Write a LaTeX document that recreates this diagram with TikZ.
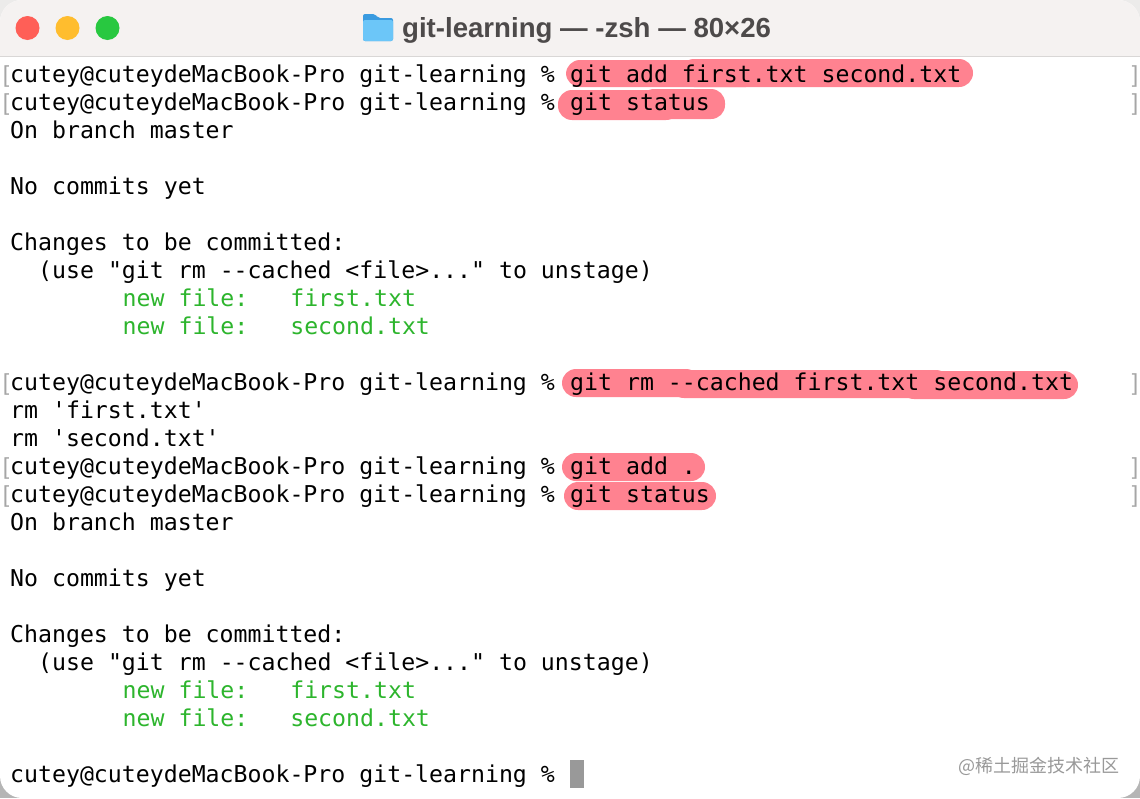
\documentclass[tikz,border=0pt]{standalone}
\usepackage{fontspec}
\setmainfont{Liberation Sans}
\setmonofont{DejaVu Sans Mono}
\newfontfamily\cjkfont{Noto Sans CJK SC}
\definecolor{barbg}{HTML}{F5F2F1}
\definecolor{barline}{HTML}{D9D7D6}
\definecolor{cornertop}{HTML}{ECEBEA}
\definecolor{cornerbot}{HTML}{B5B5B5}
\definecolor{marker}{HTML}{FF8290}
\definecolor{addgreen}{HTML}{2DB52D}
\definecolor{titletext}{HTML}{4D4A4A}
\definecolor{btnred}{HTML}{FF5F57}
\definecolor{btnyellow}{HTML}{FFBD2E}
\definecolor{btngreen}{HTML}{28C840}
\definecolor{foldertop}{HTML}{3A9BE0}
\definecolor{folderbody}{HTML}{6CC6F8}
\tikzset{
	term/.style={anchor=base west,inner sep=0pt,font=\ttfamily\fontsize{23.2}{28}\selectfont,text=black},
	addedfile/.style={term,text=addgreen},
	limit/.style={anchor=base,inner sep=0pt,font=\fontsize{23.2}{28}\selectfont,text=black!35},
	blob/.style={fill=marker,rounded corners=14pt},
}
\newcommand{\prompttext}{cutey@cuteydeMacBook-Pro git-learning \%}

\begin{document}
\begin{tikzpicture}[x=1pt,y=-1pt]
		\useasboundingbox (0,0) rectangle (1140,798);
		\fill[cornertop] (0,0) rectangle (1140,400);
		\fill[cornerbot] (0,400) rectangle (1140,798);
		% window
		\fill[white,rounded corners=22pt] (0,0) rectangle (1140,798);
		\begin{scope}
		\clip[rounded corners=22pt] (0,0) rectangle (1140,798);
		\fill[barbg] (0,0) rectangle (1140,56);
		\draw[barline,line width=1pt] (0,56.5) -- (1140,56.5);
		\end{scope}
		%
		\fill[btnred] (27.5,28) circle (12);
		\fill[btnyellow] (67.5,28) circle (12);
		\fill[btngreen] (107.5,28) circle (12);
		%
		\fill[foldertop,rounded corners=2pt] (363,14) -- (375,14) -- (378,18) -- (393,18) -- (393,41) -- (363,41) -- cycle;
		\fill[folderbody,rounded corners=2pt] (363,20) rectangle (393,41);
		\node[anchor=base west,inner sep=0pt,text=titletext,font=\bfseries\fontsize{27.6}{30}\selectfont] (title) at (402,37) {git-learning — -zsh — 80×26};
		%
		% highlighted commands
		\fill[blob] (566,60) rectangle (760,87);
		\fill[blob] (680,59) rectangle (973,87);
		\fill[blob] (558,90) rectangle (680,120);
		\fill[blob] (640,89) rectangle (725,119);
		\fill[blob] (562,369) rectangle (700,397);
		\fill[blob] (670,370) rectangle (950,398);
		\fill[blob] (900,371) rectangle (1078,399);
		\fill[blob] (562,453) rectangle (705,481);
		\fill[blob] (564,482) rectangle (716,510);
		%
		\node[term] (r1) at (10,82) {\prompttext};
		\node[term] (r2) at (10,110) {\prompttext};
		\node[term] (r3) at (10,138) {On branch master};
		\node[term] (r5) at (10,194) {No commits yet};
		\node[term] (r7) at (10,250) {Changes to be committed:};
		\node[term] (r8) at (38,278) {(use "git rm --cached <file>..." to unstage)};
		\node[addedfile] (r9) at (122.5,306) {new file:~~~first.txt};
		\node[addedfile] (r10) at (122.5,334) {new file:~~~second.txt};
		\node[term] (r12) at (10,390) {\prompttext};
		\node[term] (r13) at (10,418) {rm 'first.txt'};
		\node[term] (r14) at (10,446) {rm 'second.txt'};
		\node[term] (r15) at (10,474) {\prompttext};
		\node[term] (r16) at (10,502) {\prompttext};
		\node[term] (r17) at (10,530) {On branch master};
		\node[term] (r19) at (10,586) {No commits yet};
		\node[term] (r21) at (10,642) {Changes to be committed:};
		\node[term] (r22) at (38,670) {(use "git rm --cached <file>..." to unstage)};
		\node[addedfile] (r23) at (122.5,698) {new file:~~~first.txt};
		\node[addedfile] (r24) at (122.5,726) {new file:~~~second.txt};
		\node[term] (r26) at (10,782) {\prompttext};
		%
		\node[term] (c1) at (570,82) {git add first.txt second.txt};
		\node[term] (c2) at (570,110) {git status};
		\node[term] (c12) at (570,390) {git rm --cached first.txt second.txt};
		\node[term] (c15) at (570,474) {git add .};
		\node[term] (c16) at (570,502) {git status};
		%
		\foreach \y/\nm in {82/1,110/2,390/12,474/15,502/16}{
			\node[limit] (open\nm) at (6,\y) {[};
			\node[limit] (close\nm) at (1135,\y) {]};
		}
		%
		\fill[black!40] (570,760) rectangle (584,788);
		\node[anchor=base west,inner sep=0pt,text=black!40,font=\cjkfont\fontsize{18}{20}\selectfont] (watermark) at (958,772) {@稀土掘金技术社区};
		\end{tikzpicture}
\end{document}
